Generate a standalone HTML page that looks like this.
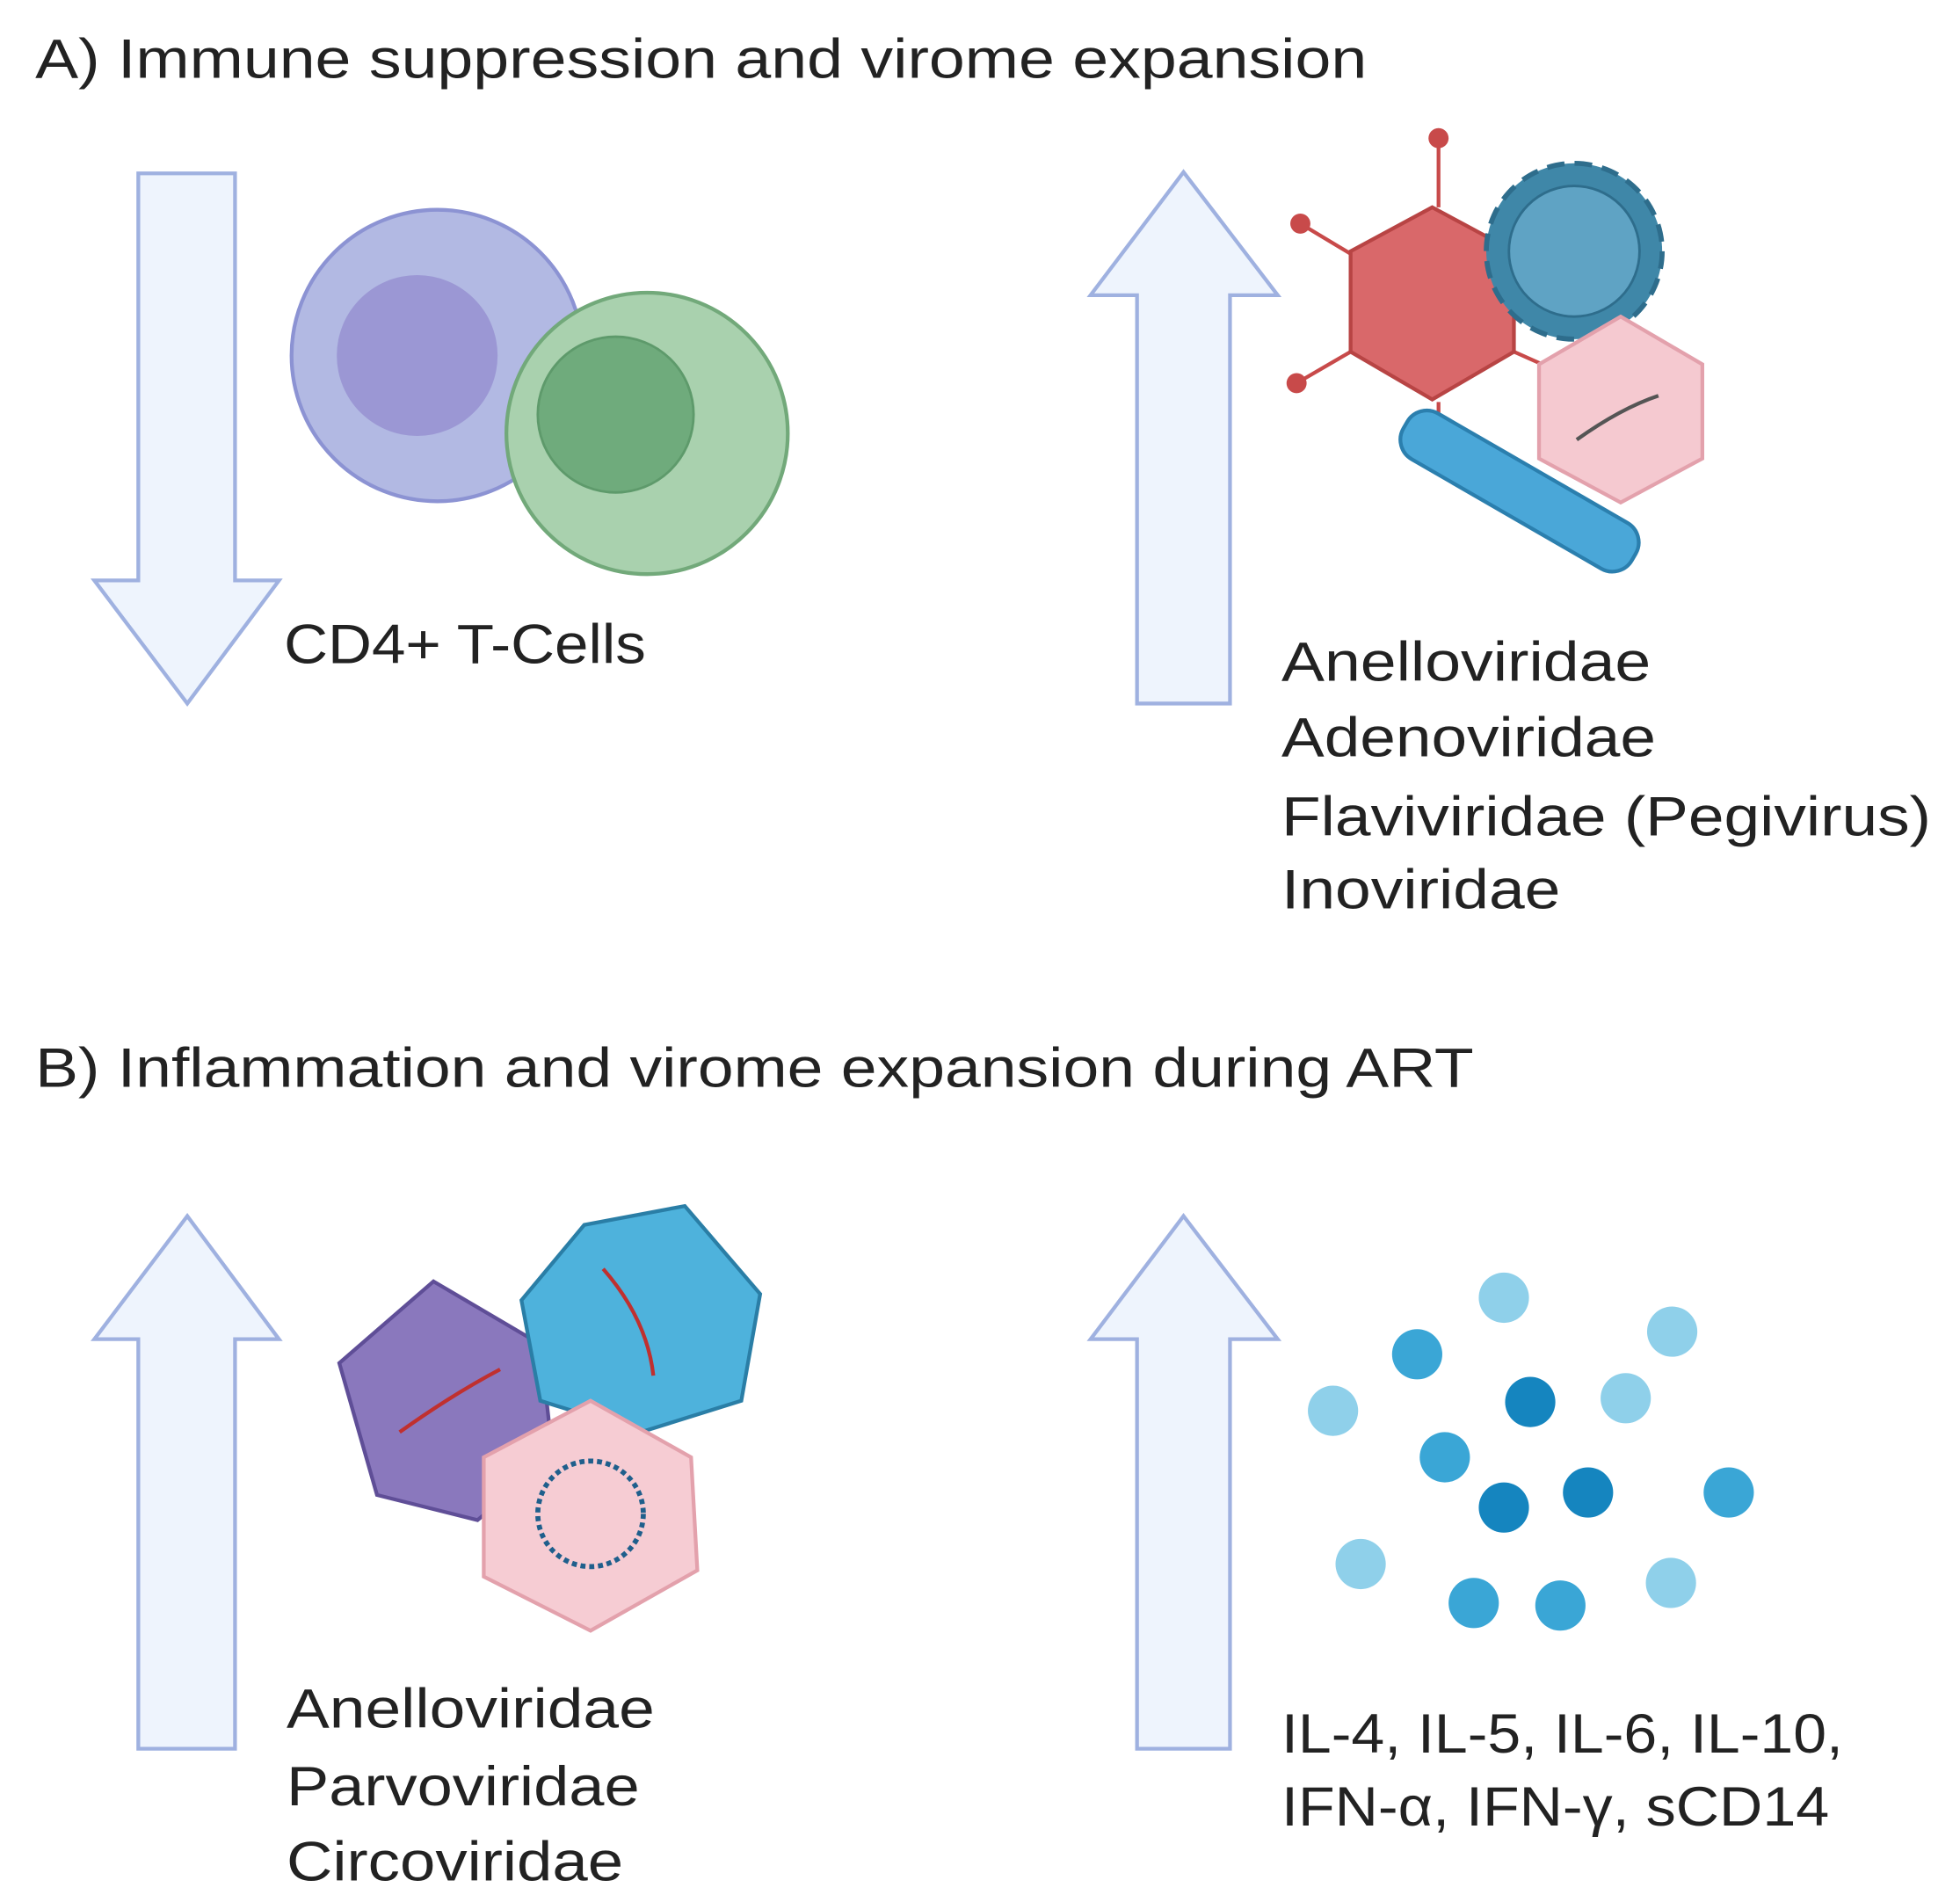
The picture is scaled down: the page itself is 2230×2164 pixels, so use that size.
<!DOCTYPE html>
<html><head><style>html,body{margin:0;padding:0;background:#fff}svg{display:block}text{font-family:"Liberation Sans",sans-serif;fill:#222}</style></head>
<body>
<svg width="2230" height="2164" viewBox="0 0 1560 1514" xmlns="http://www.w3.org/2000/svg">
<rect width="1560" height="1514" fill="#fff"/>
<text x="28" y="62" font-size="44" textLength="1060" lengthAdjust="spacingAndGlyphs">A) Immune suppression and virome expansion</text>
<text x="28" y="865" font-size="44" textLength="1145" lengthAdjust="spacingAndGlyphs">B) Inflammation and virome expansion during ART</text>
<g fill="#eef4fd" stroke="#9fb1e0" stroke-width="3">
<polygon points="110,138 187,138 187,462 222,462 149,560 75,462 110,462"/>
<polygon points="942,137 1017,235 979,235 979,560 905,560 905,235 868,235"/>
<polygon points="149,968 222,1066 187,1066 187,1392 110,1392 110,1066 75,1066"/>
<polygon points="942,968 1017,1066 979,1066 979,1392 905,1392 905,1066 868,1066"/>
</g>
<circle cx="348" cy="283" r="116" fill="#b2b9e3" stroke="#8c93d3" stroke-width="3"/>
<circle cx="332" cy="283" r="64" fill="#9b97d4"/>
<circle cx="515" cy="345" r="112" fill="#a9d1ae" stroke="#72a97a" stroke-width="3"/>
<circle cx="490" cy="330" r="62" fill="#6fab7c" stroke="#5e9a6b" stroke-width="2"/>
<text x="226" y="528" font-size="44" textLength="288" lengthAdjust="spacingAndGlyphs">CD4+ T-Cells</text>
<g stroke="#c84a4a" stroke-width="3"><line x1="1145" y1="112" x2="1145" y2="165"/><line x1="1035" y1="178" x2="1080" y2="205"/><line x1="1032" y1="305" x2="1075" y2="280"/><line x1="1250" y1="300" x2="1205" y2="280"/><line x1="1145" y1="365" x2="1145" y2="320"/></g>
<g fill="#c84a4a"><circle cx="1145" cy="110" r="8"/><circle cx="1035" cy="178" r="8"/><circle cx="1032" cy="305" r="8"/><circle cx="1250" cy="300" r="8"/><circle cx="1145" cy="368" r="8"/></g>
<polygon points="1140,165 1205,200 1205,280 1140,318 1075,280 1075,200" fill="#d9686a" stroke="#b84444" stroke-width="3"/>
<circle cx="1253" cy="200" r="70" fill="#3f87a8" stroke="#2e6d8c" stroke-width="4" stroke-dasharray="14 8"/>
<circle cx="1253" cy="200" r="52" fill="#5fa3c4" stroke="#2e6d8c" stroke-width="2"/>
<polygon points="1290,252 1355,290 1355,365 1290,400 1225,365 1225,290" fill="#f5c9d0" stroke="#e3a1ac" stroke-width="3"/>
<path d="M1255,350 Q1290,325 1320,315" stroke="#555" stroke-width="3" fill="none"/>
<g transform="rotate(30 1210 390)"><rect x="1105" y="370" width="210" height="42" rx="18" fill="#4aa7d8" stroke="#2b7fae" stroke-width="3"/></g>
<text x="1020" y="542" font-size="44" textLength="294" lengthAdjust="spacingAndGlyphs">Anelloviridae</text>
<text x="1020" y="602" font-size="44" textLength="298" lengthAdjust="spacingAndGlyphs">Adenoviridae</text>
<text x="1020" y="665" font-size="44" textLength="517" lengthAdjust="spacingAndGlyphs">Flaviviridae (Pegivirus)</text>
<text x="1020" y="723" font-size="44" textLength="222" lengthAdjust="spacingAndGlyphs">Inoviridae</text>
<polygon points="345,1020 430,1070 440,1160 380,1210 300,1190 270,1085" fill="#8a78bd" stroke="#5f4e97" stroke-width="3"/>
<path d="M318,1140 Q360,1110 398,1090" stroke="#c0302f" stroke-width="3" fill="none"/>
<polygon points="545,960 605,1030 590,1115 510,1140 430,1115 415,1035 465,975" fill="#4eb2dc" stroke="#2a7ea6" stroke-width="3"/>
<path d="M480,1010 Q515,1050 520,1095" stroke="#c0302f" stroke-width="3" fill="none"/>
<polygon points="470,1115 550,1160 555,1250 470,1298 385,1255 385,1160" fill="#f6ccd3" stroke="#e3a1ac" stroke-width="3"/>
<circle cx="470" cy="1205" r="42" fill="none" stroke="#1f5f8c" stroke-width="4" stroke-dasharray="4 3"/>
<text x="228" y="1375" font-size="44" textLength="293" lengthAdjust="spacingAndGlyphs">Anelloviridae</text>
<text x="228" y="1437" font-size="44" textLength="281" lengthAdjust="spacingAndGlyphs">Parvoviridae</text>
<text x="228" y="1497" font-size="44" textLength="268" lengthAdjust="spacingAndGlyphs">Circoviridae</text>
<g>
<circle cx="1197" cy="1033" r="20" fill="#8fd0ea"/>
<circle cx="1331" cy="1060" r="20" fill="#8fd0ea"/>
<circle cx="1128" cy="1078" r="20" fill="#3aa6d6"/>
<circle cx="1061" cy="1123" r="20" fill="#8fd0ea"/>
<circle cx="1218" cy="1116" r="20" fill="#1585bf"/>
<circle cx="1294" cy="1113" r="20" fill="#8fd0ea"/>
<circle cx="1150" cy="1160" r="20" fill="#3aa6d6"/>
<circle cx="1197" cy="1200" r="20" fill="#1585bf"/>
<circle cx="1264" cy="1188" r="20" fill="#1585bf"/>
<circle cx="1376" cy="1188" r="20" fill="#3aa6d6"/>
<circle cx="1083" cy="1245" r="20" fill="#8fd0ea"/>
<circle cx="1173" cy="1276" r="20" fill="#3aa6d6"/>
<circle cx="1242" cy="1278" r="20" fill="#3aa6d6"/>
<circle cx="1330" cy="1260" r="20" fill="#8fd0ea"/>
</g>
<text x="1020" y="1395" font-size="44" textLength="447" lengthAdjust="spacingAndGlyphs">IL-4, IL-5, IL-6, IL-10,</text>
<text x="1020" y="1453" font-size="44" textLength="436" lengthAdjust="spacingAndGlyphs">IFN-α, IFN-γ, sCD14</text>
</svg>
</body></html>
